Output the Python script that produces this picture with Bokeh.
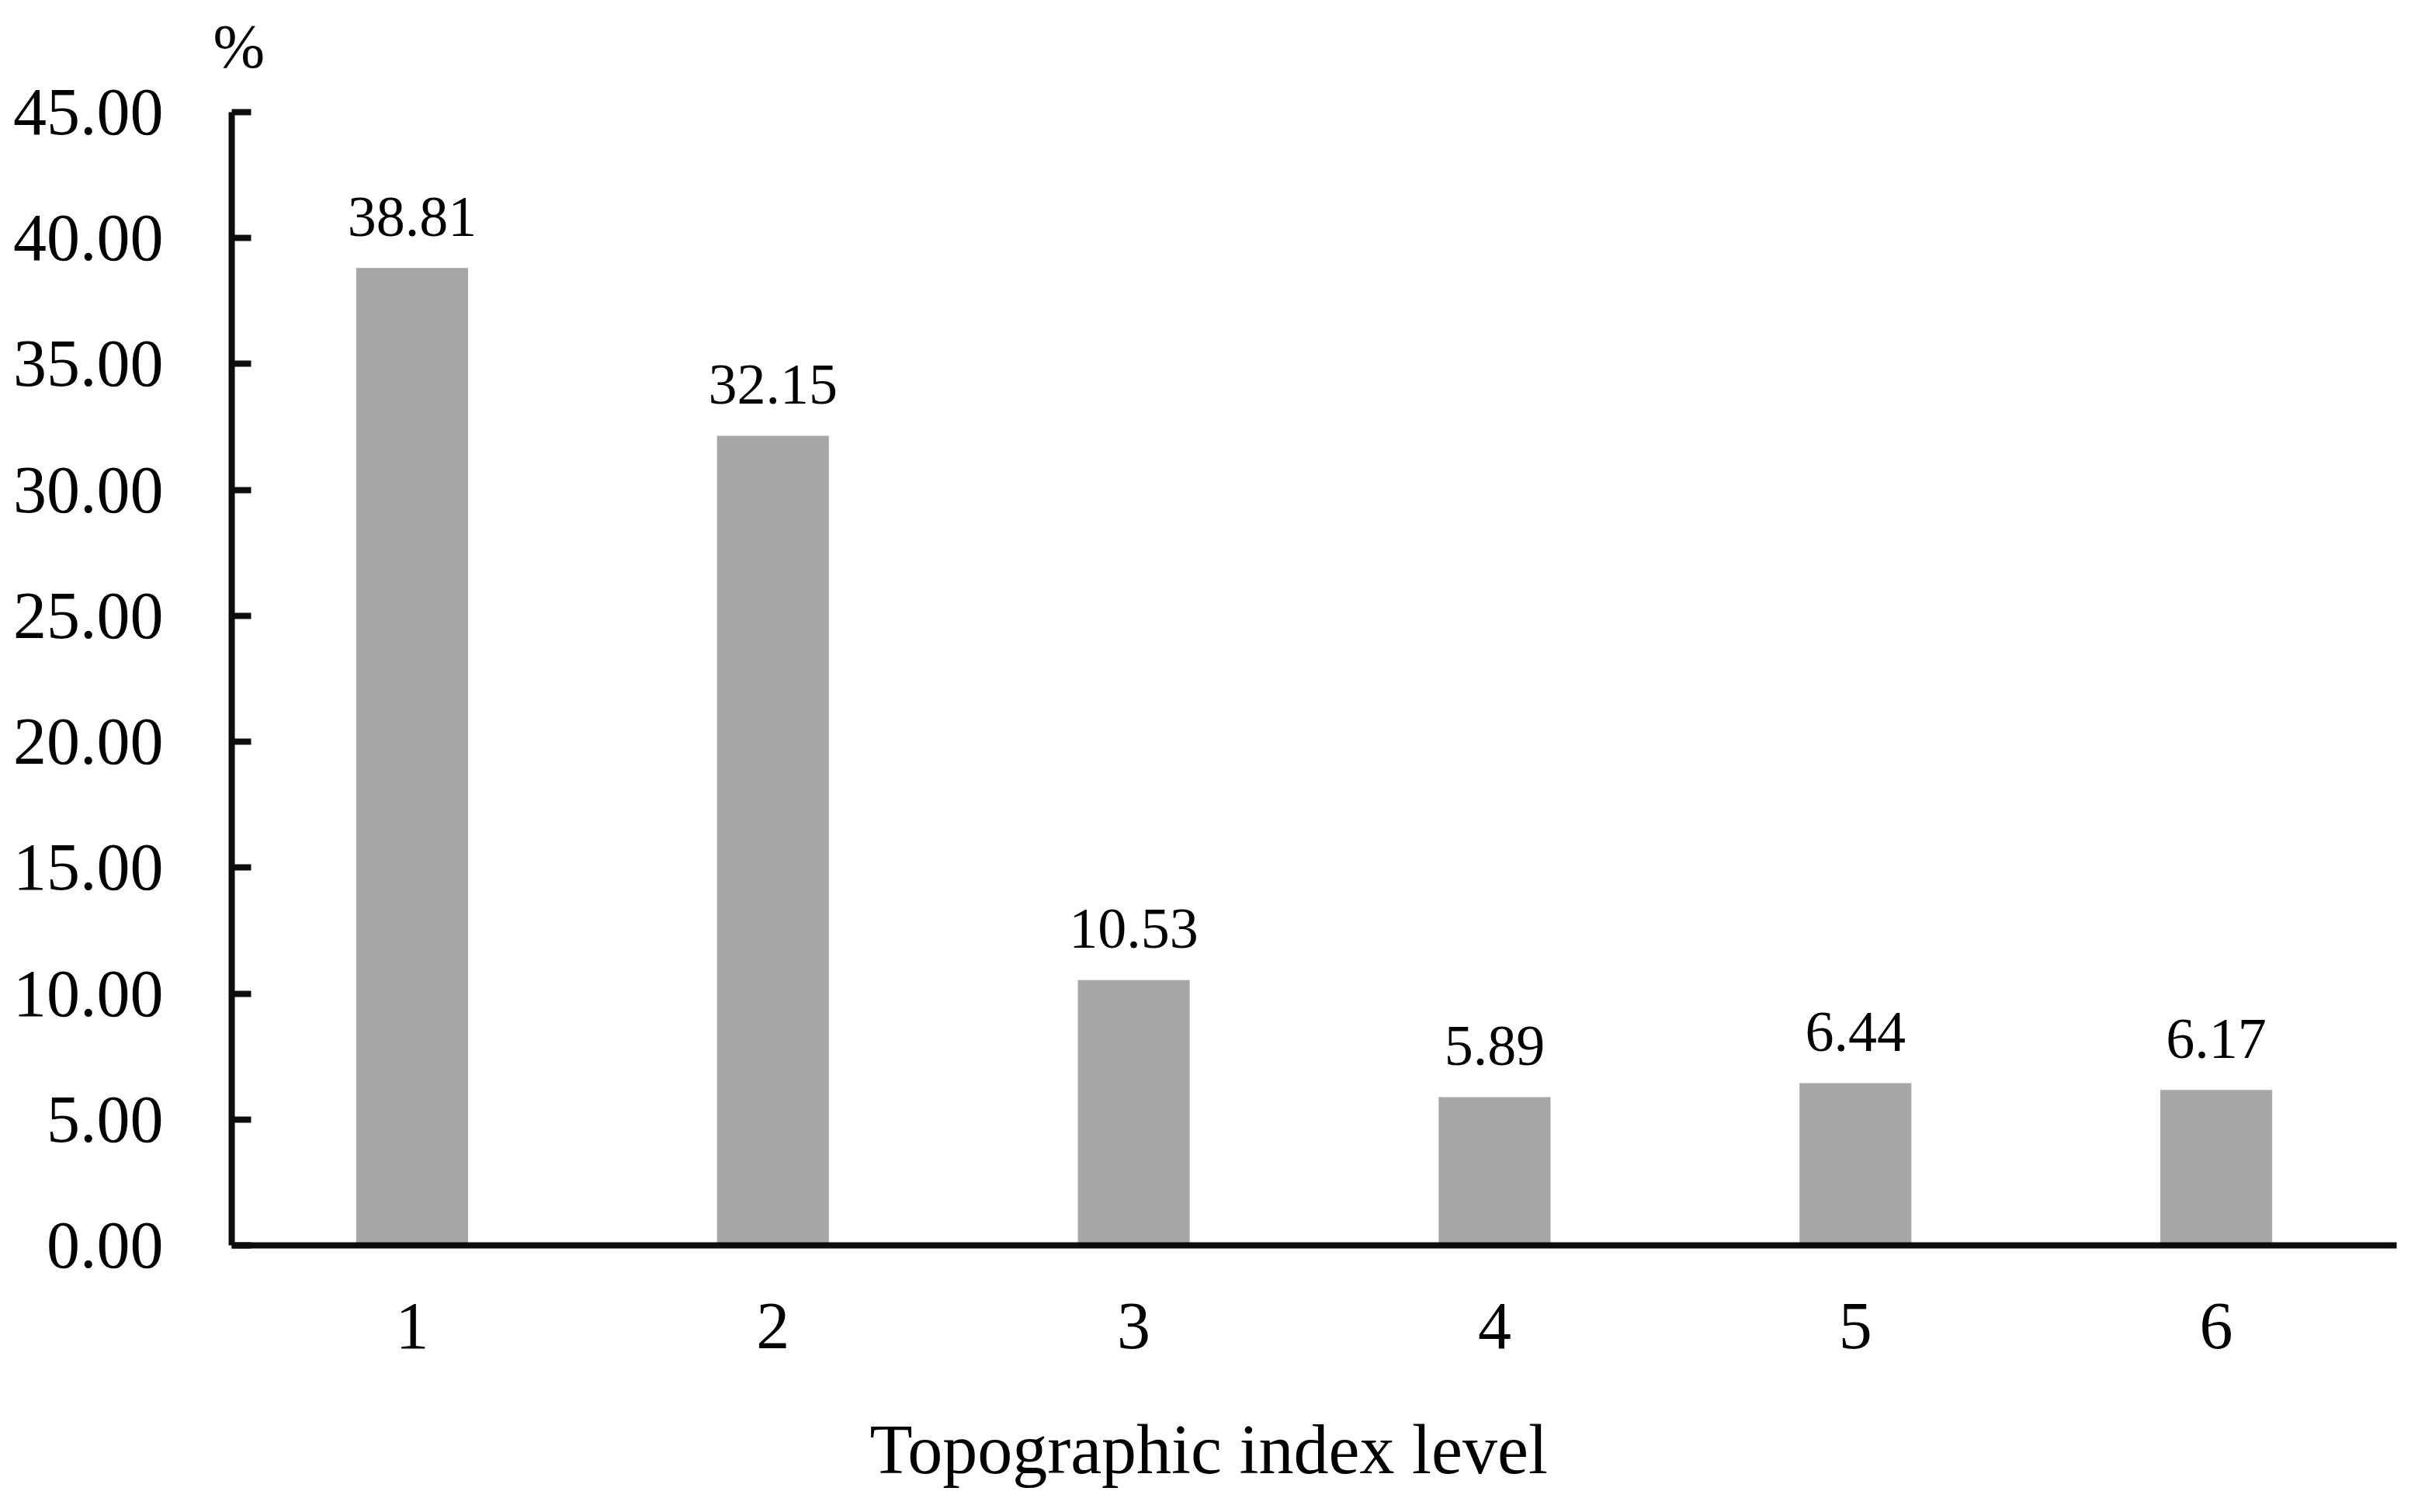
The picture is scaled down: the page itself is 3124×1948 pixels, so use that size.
from bokeh.plotting import figure
from bokeh.models import (ColumnDataSource, LabelSet, Title, FixedTicker, NumeralTickFormatter,
                          Range1d, FactorRange, CategoricalAxis)
from bokeh.embed import file_html
from bokeh.resources import INLINE
from bokeh.core.properties import value

levels = ["1", "2", "3", "4", "5", "6"]
percent = [38.81, 32.15, 10.53, 5.89, 6.44, 6.17]
value_labels = ["38.81", "32.15", "10.53", "5.89", "6.44", "6.17"]
y_ticks = [0, 5, 10, 15, 20, 25, 30, 35, 40, 45]
x_title = "Topographic index level"
y_unit = "%"

FONT = "Liberation Serif"

src = ColumnDataSource(dict(level=levels, pct=percent, lab=value_labels))

p = figure(width=3108, height=1932, x_range=FactorRange(*levels, range_padding=0),
           y_range=Range1d(0, 45), output_backend="svg", toolbar_location=None,
           min_border_left=298, min_border_top=144, min_border_bottom=328, min_border_right=21)

p.vbar(x="level", top="pct", width=0.31, source=src, fill_color="#a6a6a6", line_color=None)

labels = LabelSet(x="level", y="pct", text="lab", source=src, text_align="center",
                  text_baseline="middle", y_offset=66, text_font=value(FONT),
                  text_font_size=value("74px"), text_color="#000000")
p.add_layout(labels)

p.xgrid.grid_line_color = None
p.ygrid.grid_line_color = None
p.outline_line_color = None
p.background_fill_color = "white"

# y axis
yax = p.yaxis[0]
yax.ticker = FixedTicker(ticks=y_ticks)
yax.formatter = NumeralTickFormatter(format="0.00")
yax.major_tick_in = 25
yax.major_tick_out = 0
yax.minor_tick_line_color = None
yax.major_tick_line_width = 8
yax.major_tick_line_color = "#0d0d0d"
yax.axis_line_width = 8
yax.axis_line_color = "#0d0d0d"
yax.major_label_standoff = 88
yax.major_label_text_font = FONT
yax.major_label_text_font_size = "86px"
yax.major_label_text_color = "#000000"

# x axis
xax = p.xaxis[0]
xax.major_tick_line_color = None
xax.major_tick_out = 0
xax.major_tick_in = 0
xax.minor_tick_line_color = None
xax.axis_line_width = 8
xax.axis_line_color = "#0d0d0d"
xax.major_label_standoff = 75
xax.major_label_text_font = FONT
xax.major_label_text_font_size = "86px"
xax.major_label_text_color = "#000000"


def spacer(size):
    # blank axis used only to reserve vertical space in a side panel
    return CategoricalAxis(axis_line_color=None,
                           major_tick_out=size, major_tick_in=0, major_tick_line_color="white",
                           minor_tick_out=0, minor_tick_in=0, minor_tick_line_color=None,
                           major_label_standoff=0, major_label_text_color=None,
                           major_label_text_font_size="1px")


# "%" unit label above the y axis
p.add_layout(spacer(41), "above")
pt = Title(text=y_unit, align="left", offset=-24, vertical_align="bottom", standoff=0,
           text_font=FONT, text_font_size="80px", text_font_style="normal",
           text_color="#000000")
p.add_layout(pt, "above")

# x-axis title, centred on the whole chart
p.add_layout(spacer(73), "below")
xt = Title(text=x_title, align="left", offset=822, vertical_align="top", standoff=10,
           text_font=FONT, text_font_size="90px", text_font_style="normal",
           text_color="#000000")
p.add_layout(xt, "below")

open("out.html", "w").write(file_html(p, INLINE))
